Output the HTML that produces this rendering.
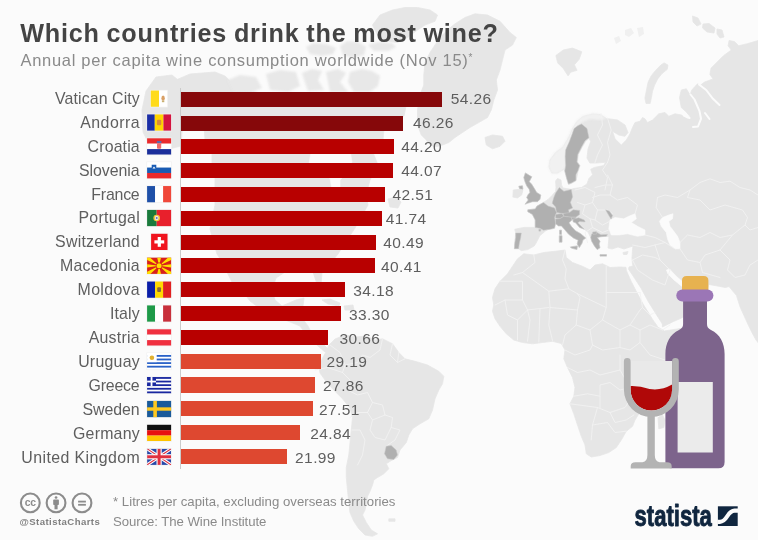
<!DOCTYPE html>
<html><head><meta charset="utf-8"><title>Which countries drink the most wine?</title>
<style>
html,body{margin:0;padding:0}
body{width:758px;height:540px;overflow:hidden;background:#fbfbfb;font-family:"Liberation Sans",sans-serif;position:relative}
#c{position:absolute;left:0;top:0;width:758px;height:540px;overflow:hidden;background:#fbfbfb}
svg{position:absolute;left:0;top:0}
.title{position:absolute;left:20.2px;top:18.8px;font-size:25.2px;font-weight:bold;color:#444;white-space:nowrap;letter-spacing:0.8px;word-spacing:-1px}
.sub{position:absolute;left:20.5px;top:50.7px;font-size:16.5px;color:#8a8a8a;white-space:nowrap;letter-spacing:0.7px}
.axis{position:absolute;left:179.8px;top:87.5px;width:1px;height:381px;background:#cbcbcb}
.bar{position:absolute;left:181px;height:15.1px}
.lbl{position:absolute;right:618.4px;font-size:15.9px;line-height:20px;color:#5e5e5e;white-space:nowrap;text-align:right;letter-spacing:0.1px}
.val{position:absolute;font-size:15.5px;line-height:20px;color:#5e5e5e;white-space:nowrap;letter-spacing:0.4px}
.foot{position:absolute;left:113px;font-size:13.2px;color:#8a8a8a;white-space:nowrap;letter-spacing:0.02px}
.handle{position:absolute;left:19.5px;top:515.5px;font-size:9.6px;font-weight:bold;color:#808080;white-space:nowrap;letter-spacing:0.42px}
</style></head><body><div id="c">
<svg id="map" width="758" height="540" viewBox="0 0 758 540" style="filter:blur(0.5px)">
<g fill="#e6e6e6" stroke="#e6e6e6" stroke-width="0.8" stroke-linejoin="round">
<path d="M514.4 248.7 L514.8 243.0 L515.7 233.0 L514.8 229.3 L524.0 227.4 L535.2 227.4 L535.2 220.0 L532.4 214.4 L527.8 211.7 L527.8 209.8 L535.2 208.9 L537.0 206.1 L543.5 202.4 L548.0 199.5 L552.0 195.5 L555.6 191.5 L556.0 187.6 L555.6 181.0 L557.5 178.5 L561.0 180.0 L561.5 185.0 L563.0 188.0 L566.0 188.5 L571.3 189.3 L574.0 188.5 L581.5 187.5 L587.0 184.0 L588.9 178.5 L592.6 174.8 L590.7 169.3 L594.4 167.4 L603.7 165.6 L605.6 162.3 L596.3 163.0 L589.8 163.0 L587.0 158.0 L588.0 149.0 L590.7 141.5 L589.0 138.3 L585.5 141.5 L582.0 147.5 L578.3 154.4 L577.5 162.0 L580.0 165.6 L578.0 171.5 L576.0 180.8 L571.3 183.5 L568.5 184.5 L566.7 178.5 L564.8 171.0 L563.9 169.3 L557.4 173.0 L551.9 173.0 L549.0 167.0 L550.0 160.0 L555.6 152.6 L563.0 147.0 L568.5 137.8 L573.1 127.6 L577.0 121.5 L583.0 116.5 L592.5 114.0 L600.0 114.5 L606.5 118.5 L617.5 120.0 L625.0 125.0 L628.0 132.5 L625.0 136.3 L618.8 135.0 L612.5 131.3 L615.0 138.8 L621.3 145.0 L626.3 140.0 L630.0 133.8 L632.5 127.5 L635.0 122.5 L640.0 121.3 L642.5 117.5 L645.0 118.8 L647.5 122.5 L652.5 120.0 L658.8 113.8 L665.0 112.5 L668.8 116.3 L675.0 113.8 L681.3 115.0 L687.5 118.8 L690.0 116.3 L685.5 111.3 L681.3 107.5 L679.5 97.5 L681.3 90.0 L686.3 88.8 L690.0 95.0 L691.8 90.0 L697.5 83.8 L700.3 85.3 L704.6 82.1 L713.1 78.9 L709.9 74.6 L711.0 68.2 L717.4 61.8 L723.8 55.4 L731.3 50.1 L728.1 45.8 L729.1 40.5 L734.5 41.6 L738.7 45.8 L747.3 43.7 L760.0 40.0 L760.0 345.0 L756.0 340.0 L751.0 330.7 L745.8 319.6 L740.0 306.7 L736.5 295.6 L729.0 286.5 L725.4 287.5 L715.0 285.5 L708.7 284.4 L707.0 292.0 L700.0 305.0 L682.0 317.8 L673.5 321.5 L662.4 327.0 L662.4 324.0 L657.4 316.2 L648.2 301.4 L641.2 288.4 L634.9 278.7 L628.6 269.2 L629.0 267.0 L633.0 266.0 L632.5 264.0 L632.0 258.0 L632.5 250.0 L633.0 246.0 L630.0 247.0 L624.0 249.0 L618.0 247.0 L612.0 249.0 L608.0 248.0 L609.0 237.0 L606.5 236.3 L600.9 236.7 L597.2 237.6 L600.0 241.3 L599.1 244.1 L600.0 247.8 L597.2 249.6 L594.4 245.9 L591.7 241.3 L590.7 237.6 L588.0 232.0 L584.3 229.3 L579.6 227.4 L575.6 222.8 L571.9 220.0 L568.9 222.8 L571.5 226.5 L575.4 230.7 L580.7 233.7 L585.7 238.1 L583.0 240.0 L582.0 243.3 L579.3 247.6 L577.2 243.9 L578.1 240.2 L573.5 238.0 L568.7 234.3 L564.4 229.3 L561.5 225.9 L558.5 225.9 L555.6 223.7 L552.0 228.5 L548.0 229.5 L545.4 231.1 L539.8 235.7 L537.0 241.3 L534.3 245.9 L527.8 249.6 L521.3 250.6 L518.5 248.7Z"/>
<path d="M513.3 190.0 L519.2 189.3 L522.9 190.0 L521.7 195.0 L517.5 197.9 L512.9 197.1Z"/>
<path d="M485.0 137.5 L492.5 135.0 L502.5 136.3 L505.0 141.3 L500.0 146.3 L492.5 148.8 L486.3 145.0Z"/>
<path d="M664.1 62.9 L667.9 65.0 L667.3 69.3 L662.0 73.6 L657.7 78.9 L654.5 85.3 L652.4 91.7 L651.3 98.1 L650.2 103.4 L646.0 103.4 L644.9 98.1 L646.6 89.6 L648.1 82.1 L651.3 75.7 L655.6 70.4 L660.9 65.0Z"/>
<path d="M623.0 252.5 L628.0 251.5 L627.0 254.5 L623.5 254.5Z"/>
<path d="M570.4 246.9 L577.4 245.9 L576.9 249.6 L571.3 248.1Z"/>
<path d="M559.3 235.7 L562.0 235.7 L562.0 242.2 L559.3 242.2Z"/>
<path d="M559.6 230.2 L561.5 230.2 L561.5 234.4 L559.6 234.4Z"/>
<path d="M600.0 254.6 L606.5 254.6 L606.5 256.1 L600.0 256.1Z"/>
<path d="M525.4 172.9 L530.0 175.8 L531.8 176.8 L529.2 181.7 L531.7 184.2 L534.2 188.3 L536.7 192.5 L540.8 195.0 L540.0 199.2 L537.5 201.7 L532.5 201.7 L527.5 203.3 L525.0 204.2 L528.3 200.0 L526.7 197.5 L528.3 194.2 L530.0 192.5 L529.2 189.2 L526.7 185.8 L525.0 181.7 L523.8 177.5Z"/>
<path d="M518.8 186.2 L522.5 185.8 L522.9 189.2 L519.6 188.8Z"/>
<path d="M523.8 253.8 L533.8 255.0 L543.8 252.5 L555.0 251.3 L565.0 250.0 L566.3 257.5 L572.5 262.5 L582.5 266.3 L590.0 270.0 L595.0 265.0 L602.5 263.8 L610.0 267.5 L620.0 267.0 L626.0 267.3 L626.4 270.8 L631.1 281.3 L636.4 291.6 L643.4 304.6 L652.6 319.4 L658.0 327.2 L664.5 331.0 L690.0 327.0 L683.0 340.0 L672.0 356.0 L660.0 372.0 L650.0 385.0 L646.0 400.0 L640.0 412.0 L635.0 420.0 L632.5 426.3 L626.3 431.3 L621.3 440.0 L616.3 447.5 L608.8 452.5 L600.0 455.5 L591.3 457.0 L586.3 453.8 L585.0 445.0 L581.3 436.3 L577.5 425.0 L573.8 413.8 L570.0 403.8 L573.8 396.3 L575.0 387.5 L572.5 377.5 L567.5 367.5 L563.8 358.8 L565.0 350.0 L561.3 343.5 L552.5 341.3 L542.5 342.5 L532.5 343.8 L522.5 342.5 L513.8 340.0 L506.3 333.8 L500.0 326.3 L495.0 318.8 L492.5 311.3 L493.8 305.0 L492.5 297.5 L495.0 288.8 L500.0 281.3 L507.5 273.8 L512.5 266.3 L517.5 258.8Z"/>
<path d="M658.0 417.5 L662.5 415.0 L665.0 420.0 L663.8 427.5 L658.8 428.8Z"/>
<path d="M465.0 17.5 L475.0 13.8 L487.5 15.0 L500.0 21.3 L510.0 32.5 L516.3 37.5 L512.5 45.0 L505.0 50.0 L502.5 60.0 L500.0 70.0 L496.3 80.0 L497.5 90.0 L493.8 100.0 L491.3 110.0 L487.5 117.5 L478.8 122.5 L470.0 127.5 L462.5 132.5 L455.0 137.5 L448.8 142.5 L442.5 145.0 L435.0 147.0 L430.0 145.0 L426.3 140.0 L421.3 135.0 L417.5 125.0 L417.5 110.0 L420.0 95.0 L423.8 85.0 L423.8 75.0 L425.0 62.5 L430.0 52.5 L435.0 45.0 L440.0 37.5 L447.5 30.0 L455.0 23.8Z"/>
<path d="M372.5 25.0 L380.0 15.0 L392.5 10.0 L405.0 7.5 L417.5 7.5 L430.0 10.0 L437.5 15.0 L435.0 21.3 L425.0 25.0 L417.5 30.0 L407.5 37.5 L397.5 42.5 L387.5 41.3 L377.5 35.0Z"/>
<path d="M555.9 55.5 L563.3 50.0 L572.5 48.1 L581.8 51.8 L579.2 59.2 L574.4 64.8 L577.0 70.3 L570.7 72.2 L568.1 75.9 L563.3 68.5 L557.7 62.9Z"/>
<path d="M142.0 110.0 L146.0 91.0 L156.0 77.0 L172.0 75.0 L183.0 84.0 L183.0 118.0 L181.0 146.0 L165.0 150.0 L150.0 146.0 L143.0 132.0Z"/>
<path d="M176.0 80.0 L190.0 74.0 L215.0 72.0 L225.0 76.0 L240.0 90.0 L262.0 93.0 L300.0 94.0 L340.0 95.0 L372.0 96.0 L400.0 98.0 L406.0 106.0 L404.0 116.0 L392.0 120.0 L384.0 128.0 L383.0 140.0 L372.0 150.0 L378.0 165.0 L370.0 180.0 L366.0 195.0 L368.0 205.0 L355.0 228.0 L347.0 240.0 L338.0 254.0 L328.0 266.0 L322.0 272.0 L321.0 285.0 L318.0 287.0 L315.0 278.0 L313.0 272.0 L300.0 270.0 L285.0 272.0 L276.0 278.0 L272.0 290.0 L275.0 300.0 L282.0 306.0 L296.0 300.0 L304.0 298.0 L303.0 306.0 L298.0 312.0 L302.0 318.0 L308.0 326.0 L312.0 334.0 L318.0 340.0 L324.0 345.0 L331.0 352.0 L325.0 352.0 L318.0 346.0 L309.0 338.0 L300.0 326.0 L280.0 318.0 L262.0 310.0 L250.0 301.0 L232.0 277.0 L217.0 254.0 L210.0 229.0 L215.0 205.0 L215.0 190.0 L215.0 175.0 L212.0 165.0 L212.0 150.0 L205.0 140.0 L204.0 125.0 L183.0 120.0 L176.0 110.0Z"/>
<path d="M226.0 270.0 L230.0 270.0 L242.0 294.0 L239.0 296.0Z"/>
<path d="M388.0 199.0 L396.0 197.0 L401.0 202.0 L398.0 208.0 L390.0 207.0Z"/>
<path d="M322.0 300.0 L330.0 299.0 L340.0 303.0 L339.0 306.0 L328.0 304.0Z"/>
<path d="M344.0 306.0 L353.0 305.0 L354.0 310.0 L345.0 310.0Z"/>
<path d="M326.0 352.0 L329.0 345.0 L335.0 339.0 L345.0 335.0 L356.0 337.0 L366.0 336.0 L375.0 340.0 L382.5 338.8 L392.5 343.8 L398.8 352.5 L405.0 358.8 L415.0 361.3 L427.5 365.0 L438.8 371.3 L443.8 376.3 L442.5 383.8 L438.8 390.0 L435.0 398.8 L432.5 410.0 L428.8 418.8 L420.0 423.8 L412.5 428.8 L408.8 435.0 L406.3 442.5 L400.0 450.0 L397.5 457.5 L390.0 461.3 L386.3 463.8 L388.8 468.8 L383.8 473.8 L377.5 477.5 L373.8 480.0 L372.5 485.0 L370.0 491.3 L367.5 496.3 L366.3 503.8 L365.0 510.0 L362.5 515.0 L366.3 522.5 L371.3 530.0 L377.5 533.8 L372.5 536.3 L365.0 535.0 L358.8 528.8 L353.8 521.3 L350.0 512.5 L348.8 502.5 L347.5 490.0 L346.3 477.5 L346.3 467.5 L348.8 455.0 L350.0 442.5 L351.3 430.0 L352.5 417.5 L350.0 408.0 L342.5 398.8 L332.5 388.8 L325.0 380.0 L320.0 373.0 L319.0 366.0 L322.0 359.0Z"/>
<path d="M388.8 518.8 L395.0 518.8 L395.0 521.3 L388.8 521.3Z"/>
<path d="M692.5 16.0 L698.0 18.0 L701.0 24.0 L697.0 26.0 L693.0 22.0Z"/>
<path d="M703.0 24.0 L709.0 23.5 L715.0 28.0 L714.0 33.0 L707.0 32.0 L702.5 28.0Z"/>
<path d="M717.0 29.0 L722.0 30.0 L724.0 37.0 L720.0 38.0 L717.0 34.0Z"/>
</g>
<g fill="#e8e8e8" style="filter:blur(1.1px)"><path d="M306.0 47.0 L314.0 43.0 L326.0 44.0 L336.0 48.0 L333.0 54.0 L322.0 56.0 L310.0 54.0Z"/><path d="M340.0 46.0 L347.0 41.0 L358.0 42.0 L366.0 47.0 L364.0 55.0 L352.0 58.0 L343.0 55.0Z"/><path d="M368.0 45.0 L378.0 42.0 L392.0 43.0 L396.0 47.0 L388.0 51.0 L374.0 51.0Z"/><path d="M228.0 80.0 L240.0 75.0 L256.0 77.0 L262.0 88.0 L250.0 93.0 L234.0 92.0Z"/><path d="M266.0 74.0 L280.0 70.0 L296.0 72.0 L300.0 86.0 L288.0 92.0 L270.0 90.0Z"/><path d="M302.0 73.0 L312.0 69.0 L322.0 71.0 L318.0 80.0 L324.0 90.0 L308.0 91.0Z"/><path d="M326.0 72.0 L338.0 69.0 L346.0 73.0 L340.0 82.0 L348.0 92.0 L330.0 92.0Z"/><path d="M350.0 72.0 L362.0 69.0 L372.0 71.0 L380.0 76.0 L378.0 86.0 L370.0 92.0 L354.0 92.0 L348.0 82.0Z"/></g>
<g fill="#f1f1f1" style="filter:blur(0.9px)"><path d="M551.5 173.5 L548.5 167.0 L549.5 160.0 L555.0 152.4 L562.5 146.6 L568.0 137.5 L572.6 127.3 L576.5 121.0 L582.5 116.0 L592.5 113.5 L600.0 114.0 L607.0 118.5 L600.0 120.0 L590.0 119.0 L583.0 122.0 L579.0 125.0 L575.5 131.0 L571.0 141.0 L566.8 150.0 L565.3 158.0 L565.3 166.0 L564.0 169.5 L557.4 173.5Z"/></g>
<g fill="#f0f0f0"><path d="M614.0 38.0 L619.0 36.0 L621.0 41.0 L616.0 44.0Z"/><path d="M625.0 30.0 L631.0 28.0 L634.0 33.0 L629.0 37.0 L625.0 35.0Z"/><path d="M637.0 28.0 L643.0 27.0 L644.0 34.0 L639.0 37.0Z"/></g>
<g fill="#fbfbfb" stroke="#fbfbfb" stroke-width="0.6" stroke-linejoin="round">
<path d="M610.0 220.0 L615.0 217.5 L623.8 218.8 L628.8 216.3 L635.0 213.8 L636.3 218.8 L631.3 222.5 L637.5 226.3 L645.0 230.0 L645.0 235.0 L637.5 236.3 L627.5 233.8 L618.8 235.0 L611.3 235.0 L608.8 228.8Z"/>
<path d="M662.5 217.5 L668.8 215.0 L673.0 213.8 L672.5 218.8 L668.8 221.3 L670.0 226.3 L673.8 231.3 L677.5 236.3 L680.0 242.5 L680.0 248.8 L675.0 248.8 L670.0 245.0 L667.5 238.8 L666.3 232.5 L661.3 226.3 L659.5 221.3Z"/>
<path d="M666.5 270.0 L669.5 269.0 L676.0 276.0 L684.0 283.0 L700.0 287.0 L700.0 290.0 L682.0 286.5 L674.0 280.0 L668.0 274.0Z"/>
<path d="M312.0 146.0 L322.0 142.0 L338.0 144.0 L350.0 150.0 L352.0 162.0 L346.0 174.0 L340.0 180.0 L340.0 190.0 L332.0 190.0 L330.0 178.0 L318.0 174.0 L309.0 164.0Z"/>
</g>
<g fill="none" stroke="#fbfbfb" stroke-width="2" stroke-linejoin="round" stroke-linecap="round"><path d="M690.5 94.5 L694.5 99.5 L699.5 111.2 L701.0 118.8 L698.0 126.5 L693.0 127.0"/><path d="M699.0 84.5 L706.2 90.0 L713.0 98.8 L719.5 105.0"/><path d="M705.0 113.0 L709.5 119.0"/><path d="M683.8 115.5 L689.5 118.0"/></g>
<g fill="none" stroke="#f2f2f2" stroke-width="0.9" stroke-linejoin="round" stroke-linecap="round">
<path d="M533.8 255.0 L535.0 262.5 L522.5 272.5 L513.8 275.0"/>
<path d="M565.0 250.0 L562.5 260.0 L566.2 268.8 L565.0 278.8 L568.8 288.8 L577.5 293.8"/>
<path d="M606.2 266.2 L606.2 292.5 L640.0 292.5"/>
<path d="M577.5 293.8 L606.2 307.5 L606.2 292.5"/>
<path d="M500.0 281.2 L522.5 281.2 L522.5 300.0 L505.0 300.0 L495.0 305.0"/>
<path d="M522.5 272.5 L548.8 291.2 L568.8 288.8"/>
<path d="M548.8 291.2 L550.0 307.5 L577.5 310.0 L580.0 297.5 L577.5 293.8"/>
<path d="M522.5 300.0 L527.5 310.0 L548.8 307.5"/>
<path d="M505.0 300.0 L507.5 315.0 L517.5 320.0 L527.5 310.0"/>
<path d="M517.5 320.0 L517.5 340.0"/>
<path d="M527.5 310.0 L530.0 320.0 L527.5 341.2"/>
<path d="M540.0 308.8 L538.8 342.0"/>
<path d="M550.0 307.5 L548.8 325.0 L552.5 340.5"/>
<path d="M577.5 310.0 L576.2 325.0 L565.0 335.0 L562.5 345.0"/>
<path d="M606.2 307.5 L602.5 320.0 L590.0 330.0 L576.2 325.0"/>
<path d="M602.5 320.0 L620.0 330.0 L630.0 325.0 L640.0 330.0"/>
<path d="M640.0 292.5 L642.5 307.5 L650.0 315.0 L655.0 312.5"/>
<path d="M630.0 325.0 L640.0 310.0 L642.5 307.5"/>
<path d="M640.0 330.0 L650.0 325.0 L662.5 330.0 L670.0 325.0"/>
<path d="M590.0 330.0 L592.5 345.0 L602.5 350.0 L620.0 347.5 L620.0 330.0"/>
<path d="M620.0 347.5 L630.0 350.0 L640.0 342.5 L640.0 330.0"/>
<path d="M640.0 342.5 L650.0 355.0 L665.0 360.0"/>
<path d="M565.0 350.0 L575.0 355.0 L590.0 350.0 L592.5 345.0"/>
<path d="M567.5 367.5 L577.5 372.5 L590.0 370.0 L600.0 375.0 L620.0 370.0 L620.0 355.0"/>
<path d="M573.8 396.2 L587.5 393.8 L600.0 396.2 L600.0 385.0 L610.0 382.5 L620.0 390.0 L630.0 387.5"/>
<path d="M570.0 403.8 L597.5 407.5 L610.0 412.5 L625.0 407.5 L630.0 400.0"/>
<path d="M597.5 407.5 L592.5 425.0 L591.2 440.0"/>
<path d="M592.5 425.0 L607.5 422.5 L615.0 432.5 L626.2 431.2"/>
<path d="M610.0 412.5 L615.0 422.5 L626.2 420.0 L633.8 415.0"/>
<path d="M600.0 396.2 L600.0 407.5"/>
<path d="M620.0 370.0 L630.0 387.5 L635.0 402.5"/>
<path d="M657.5 197.5 L665.0 195.0 L677.5 197.5 L690.0 190.0 L700.0 182.5 L710.0 178.8 L720.0 182.5 L730.0 181.2 L740.0 187.5 L750.0 190.0 L758.0 195.0"/>
<path d="M657.5 197.5 L656.2 207.5 L662.5 217.5"/>
<path d="M690.0 190.0 L687.5 197.5 L700.0 200.0 L710.0 210.0 L725.0 205.0 L742.5 210.0 L747.5 217.5 L745.0 225.0 L750.0 230.0 L758.0 227.5"/>
<path d="M680.0 242.5 L687.5 235.0 L700.0 237.5 L710.0 232.5 L720.0 237.5 L732.5 235.0 L745.0 225.0"/>
<path d="M680.0 248.8 L687.5 260.0 L700.0 262.5 L705.0 255.0 L720.0 250.0 L732.5 235.0"/>
<path d="M700.0 262.5 L702.5 272.5 L720.0 277.5"/>
<path d="M720.0 250.0 L730.0 260.0 L727.5 270.0 L735.0 277.5 L745.0 275.0 L750.0 265.0 L758.0 260.0"/>
<path d="M645.0 235.0 L655.0 237.5 L665.0 242.5 L675.0 248.8"/>
<path d="M632.5 245.0 L645.0 247.5 L655.0 245.0 L665.0 242.5"/>
<path d="M655.0 245.0 L660.0 260.0 L670.0 270.0"/>
<path d="M632.5 260.0 L642.5 255.0 L655.0 257.5 L660.0 260.0"/>
<path d="M632.5 260.0 L637.5 270.0 L652.5 280.0 L665.0 285.0 L670.0 270.0"/>
<path d="M607.5 175.0 L612.5 185.0 L610.0 195.0 L617.5 200.0 L627.5 197.5 L637.5 205.0 L635.0 213.8"/>
<path d="M595.0 187.5 L605.0 185.0 L612.5 185.0"/>
<path d="M592.5 197.5 L600.0 195.0 L610.0 195.0"/>
<path d="M575.0 190.0 L585.0 187.5 L595.0 192.5 L592.5 202.5 L597.5 210.0 L607.5 210.0 L612.5 213.8"/>
<path d="M577.5 202.5 L585.0 205.0 L592.5 202.5"/>
<path d="M597.5 210.0 L595.0 220.0 L602.5 225.0 L610.0 221.2"/>
<path d="M585.0 205.0 L582.5 213.8 L590.0 218.8 L595.0 220.0"/>
<path d="M590.0 218.8 L592.5 227.5 L602.5 232.5 L608.8 230.0"/>
<path d="M592.5 227.5 L585.0 232.5 L587.5 242.5"/>
<path d="M601.2 113.8 L602.5 125.0 L597.5 135.0 L602.5 145.0 L597.5 155.0 L595.0 162.5"/>
<path d="M607.5 118.0 L611.2 130.0 L607.5 142.5 L610.0 155.0 L607.5 162.5"/>
<path d="M607.5 162.5 L602.5 170.0 L607.5 177.5 L605.0 190.0"/>
<path d="M382.5 338.8 L380.0 350.0 L370.0 357.5 L362.5 355.0 L357.5 362.5 L345.0 365.0 L342.5 372.5"/>
<path d="M342.5 372.5 L350.0 380.0 L347.5 390.0 L357.5 395.0 L367.5 392.5 L372.5 402.5 L382.5 405.0 L385.0 415.0 L392.5 417.5 L391.2 427.5 L400.0 430.0 L395.0 440.0 L386.2 446.2"/>
<path d="M372.5 402.5 L367.5 412.5 L372.5 420.0 L385.0 415.0"/>
<path d="M372.5 420.0 L370.0 430.0 L375.0 437.5 L385.0 440.0 L391.2 427.5"/>
<path d="M350.0 417.5 L357.5 412.5 L367.5 412.5"/>
<path d="M352.5 430.0 L360.0 430.0 L365.0 440.0 L362.5 455.0 L357.5 465.0"/>
<path d="M330.0 345.0 L340.0 352.5 L345.0 365.0"/>
<path d="M315.0 370.0 L327.5 367.5 L342.5 372.5"/>
<path d="M398.8 352.5 L397.5 362.5 L405.0 358.8"/>
<path d="M392.5 343.8 L390.0 355.0 L397.5 362.5"/>
</g>
<g fill="#b0b0b0" stroke="#c9c9c9" stroke-width="0.55" stroke-linejoin="round">
<path d="M581.5 123.9 L587.0 128.5 L588.9 137.8 L585.2 140.6 L581.5 147.0 L577.8 154.4 L576.9 161.9 L579.6 165.6 L577.8 171.1 L575.9 174.8 L575.9 180.4 L571.3 183.1 L568.5 184.1 L566.7 178.5 L564.8 171.1 L565.7 165.6 L565.2 156.3 L565.7 149.8 L569.4 141.5 L572.2 134.1 L574.1 128.5 L577.8 125.7Z"/>
<path d="M525.4 172.9 L530.0 175.8 L531.8 176.8 L529.2 181.7 L531.7 184.2 L534.2 188.3 L536.7 192.5 L540.8 195.0 L540.0 199.2 L537.5 201.7 L532.5 201.7 L527.5 203.3 L525.0 204.2 L528.3 200.0 L526.7 197.5 L528.3 194.2 L530.0 192.5 L529.2 189.2 L526.7 185.8 L525.0 181.7 L523.8 177.5Z"/>
<path d="M518.8 186.2 L522.5 185.8 L522.9 189.2 L519.6 188.8Z"/>
<path d="M559.3 187.6 L563.9 191.3 L571.3 189.4 L572.6 196.9 L570.4 202.4 L572.6 208.0 L568.5 209.8 L569.4 213.5 L563.0 213.5 L556.5 212.6 L555.6 207.0 L552.2 203.3 L553.7 197.8 L555.6 193.1Z"/>
<path d="M543.5 202.4 L548.1 206.1 L554.6 208.0 L556.5 212.6 L554.6 217.2 L555.6 223.7 L554.6 228.3 L550.0 229.3 L543.5 230.2 L539.8 228.3 L535.2 227.4 L535.2 220.0 L532.4 214.4 L527.8 211.7 L527.8 209.8 L535.2 208.9 L537.0 206.1Z"/>
<path d="M555.6 214.4 L562.0 213.5 L563.9 216.3 L560.2 218.5 L555.6 218.1Z"/>
<path d="M563.0 213.5 L569.4 212.6 L573.1 209.8 L579.6 210.4 L579.6 214.4 L575.9 217.2 L570.4 217.2 L563.9 216.3Z"/>
<path d="M571.3 217.2 L575.9 217.2 L575.6 219.6 L571.9 219.6Z"/>
<path d="M573.1 219.1 L578.7 217.8 L584.3 220.0 L585.2 221.9 L579.6 221.5 L577.8 222.8 L581.5 226.5 L584.3 229.3 L579.6 227.4 L575.6 222.8 L573.1 221.9Z"/>
<path d="M555.6 219.1 L560.2 218.5 L563.9 216.3 L571.3 217.2 L571.9 220.0 L568.9 222.8 L571.5 226.5 L575.4 230.7 L580.7 233.7 L585.7 238.1 L583.0 240.0 L582.0 243.3 L579.3 247.6 L577.2 243.9 L578.1 240.2 L573.5 238.0 L568.7 234.3 L564.4 229.3 L561.5 225.9 L558.5 225.9 L555.6 223.7Z"/>
<path d="M570.4 246.9 L577.4 245.9 L576.9 249.6 L571.3 248.1Z"/>
<path d="M559.3 235.7 L562.0 235.7 L562.0 242.2 L559.3 242.2Z"/>
<path d="M559.6 230.2 L561.5 230.2 L561.5 234.4 L559.6 234.4Z"/>
<path d="M515.7 233.0 L521.3 233.0 L520.7 237.6 L519.4 243.1 L518.5 248.7 L514.4 248.7 L514.8 243.1 L515.7 237.6Z"/>
<path d="M591.7 233.9 L596.3 232.0 L600.9 234.8 L607.4 234.4 L606.5 236.3 L600.9 236.7 L597.2 237.6 L600.0 241.3 L599.1 244.1 L600.0 247.8 L597.2 249.6 L594.4 245.9 L591.7 241.3 L590.7 237.6Z"/>
<path d="M600.0 254.6 L606.5 254.6 L606.5 256.1 L600.0 256.1Z"/>
<path d="M592.6 232.0 L596.3 231.7 L596.7 233.9 L593.0 234.4Z"/>
<path d="M605.6 209.8 L609.3 211.1 L612.6 215.4 L611.1 219.1 L609.3 216.3 L607.4 213.0Z"/>
<path d="M538.9 229.3 L540.7 229.3 L540.7 231.1 L538.9 231.1Z"/>
<path d="M386.2 446.2 L391.2 445.5 L396.2 450.0 L397.5 455.0 L393.8 459.5 L387.5 458.8 L384.5 453.8Z"/>
</g></svg>
<div id="t" style="position:absolute;left:0;top:0;width:758px;height:540px;filter:blur(0.38px)">
<div class="title">Which countries drink the most wine?</div>
<div class="sub">Annual per capita wine consumption worldwide (Nov 15)<span style="font-size:10px;position:relative;top:-5px">*</span></div>
<div class="axis"></div>
<div class="bar" style="top:91.75px;width:260.9px;background:#86080a"></div>
<div class="lbl" style="top:88.85px;letter-spacing:0.09px;right:618.21px">Vatican City</div>
<div class="val" style="top:89.30px;left:450.7px">54.26</div>
<div class="bar" style="top:115.56px;width:222.4px;background:#86080a"></div>
<div class="lbl" style="top:112.77px;letter-spacing:0.50px;right:617.80px">Andorra</div>
<div class="val" style="top:113.22px;left:413.1px">46.26</div>
<div class="bar" style="top:139.36px;width:212.5px;background:#b80000"></div>
<div class="lbl" style="top:136.69px;letter-spacing:0.15px;right:618.15px">Croatia</div>
<div class="val" style="top:137.14px;left:401.3px">44.20</div>
<div class="bar" style="top:163.16px;width:211.9px;background:#b80000"></div>
<div class="lbl" style="top:160.61px;letter-spacing:-0.03px;right:618.33px">Slovenia</div>
<div class="val" style="top:161.06px;left:401.3px">44.07</div>
<div class="bar" style="top:186.97px;width:204.4px;background:#b80000"></div>
<div class="lbl" style="top:184.53px;letter-spacing:-0.22px;right:618.52px">France</div>
<div class="val" style="top:184.98px;left:392.5px">42.51</div>
<div class="bar" style="top:210.78px;width:200.7px;background:#b80000"></div>
<div class="lbl" style="top:208.45px;letter-spacing:0.29px;right:618.01px">Portugal</div>
<div class="val" style="top:208.90px;left:385.7px">41.74</div>
<div class="bar" style="top:234.58px;width:194.7px;background:#b80000"></div>
<div class="lbl" style="top:232.37px;letter-spacing:0.25px;right:618.05px">Switzerland</div>
<div class="val" style="top:232.82px;left:383.3px">40.49</div>
<div class="bar" style="top:258.38px;width:194.3px;background:#b80000"></div>
<div class="lbl" style="top:256.29px;letter-spacing:0.25px;right:618.05px">Macedonia</div>
<div class="val" style="top:256.74px;left:380.9px">40.41</div>
<div class="bar" style="top:282.19px;width:164.3px;background:#b80000"></div>
<div class="lbl" style="top:280.21px;letter-spacing:0.35px;right:617.95px">Moldova</div>
<div class="val" style="top:280.66px;left:353.3px">34.18</div>
<div class="bar" style="top:306.00px;width:160.1px;background:#b80000"></div>
<div class="lbl" style="top:304.13px;letter-spacing:0.15px;right:618.15px">Italy</div>
<div class="val" style="top:304.58px;left:349.0px">33.30</div>
<div class="bar" style="top:329.80px;width:147.4px;background:#b80000"></div>
<div class="lbl" style="top:328.05px;letter-spacing:0.27px;right:618.03px">Austria</div>
<div class="val" style="top:328.50px;left:339.4px">30.66</div>
<div class="bar" style="top:353.61px;width:140.3px;background:#de4830"></div>
<div class="lbl" style="top:351.97px;letter-spacing:0.25px;right:618.05px">Uruguay</div>
<div class="val" style="top:352.42px;left:326.4px">29.19</div>
<div class="bar" style="top:377.41px;width:134.0px;background:#de4830"></div>
<div class="lbl" style="top:375.89px;letter-spacing:-0.20px;right:618.50px">Greece</div>
<div class="val" style="top:376.34px;left:323.1px">27.86</div>
<div class="bar" style="top:401.21px;width:132.3px;background:#de4830"></div>
<div class="lbl" style="top:399.81px;letter-spacing:-0.02px;right:618.32px">Sweden</div>
<div class="val" style="top:400.26px;left:318.9px">27.51</div>
<div class="bar" style="top:425.02px;width:119.4px;background:#de4830"></div>
<div class="lbl" style="top:423.73px;letter-spacing:0.23px;right:618.07px">Germany</div>
<div class="val" style="top:424.18px;left:310.3px">24.84</div>
<div class="bar" style="top:448.82px;width:105.7px;background:#de4830"></div>
<div class="lbl" style="top:447.65px;letter-spacing:0.41px;right:617.89px">United Kingdom</div>
<div class="val" style="top:448.10px;left:295.1px">21.99</div>
</div>
<svg id="flags" width="758" height="540" viewBox="0 0 758 540" style="filter:blur(0.35px)">
<g transform="translate(150.80,90.55)"><rect x="-0.7" y="-0.7" width="17.80" height="17.60" fill="#f1f1f1"/><rect x="0.00" y="0.00" width="8.20" height="16.20" fill="#ffdb1a"/><rect x="8.20" y="0.00" width="8.20" height="16.20" fill="#ffffff"/><ellipse cx="12.30" cy="7.61" rx="1.7" ry="2.6" fill="#d9a066"/><rect x="11.10" y="10.04" width="2.4" height="1.6" fill="#c8b070"/></g>
<g transform="translate(147.10,114.42)"><rect x="-0.7" y="-0.7" width="25.40" height="17.60" fill="#f1f1f1"/><rect x="0.00" y="0.00" width="7.68" height="16.20" fill="#1b2ea6"/><rect x="7.68" y="0.00" width="8.64" height="16.20" fill="#ffd400"/><rect x="16.32" y="0.00" width="7.68" height="16.20" fill="#d3143f"/><rect x="9.80" y="5.30" width="4.4" height="5.6" rx="1.2" fill="#d98a3a"/></g>
<g transform="translate(147.10,138.30)"><rect x="-0.7" y="-0.7" width="25.40" height="17.60" fill="#f1f1f1"/><rect x="0.00" y="0.00" width="24.00" height="5.40" fill="#ea2a2c"/><rect x="0.00" y="5.40" width="24.00" height="5.40" fill="#ffffff"/><rect x="0.00" y="10.80" width="24.00" height="5.40" fill="#1b2f9b"/><rect x="9.90" y="4.86" width="4.2" height="5.6" rx="1" fill="#ee6a6a"/><rect x="9.70" y="2.75" width="4.6" height="2.0" fill="#5a6ab0"/></g>
<g transform="translate(147.10,162.18)"><rect x="-0.7" y="-0.7" width="25.40" height="17.60" fill="#f1f1f1"/><rect x="0.00" y="0.00" width="24.00" height="5.40" fill="#ffffff"/><rect x="0.00" y="5.40" width="24.00" height="5.40" fill="#1a5cb4"/><rect x="0.00" y="10.80" width="24.00" height="5.40" fill="#ea2a2c"/><path d="M4.6 2.6 h4.6 v3.6 q0 2.2 -2.3 2.9 q-2.3 -0.7 -2.3 -2.9z" fill="#1a5cb4"/><path d="M5.4 6.4 l1.5 -2 l1.5 2 z" fill="#fff"/></g>
<g transform="translate(147.10,186.05)"><rect x="-0.7" y="-0.7" width="25.40" height="17.60" fill="#f1f1f1"/><rect x="0.00" y="0.00" width="8.00" height="16.20" fill="#1f50a8"/><rect x="8.00" y="0.00" width="8.00" height="16.20" fill="#ffffff"/><rect x="16.00" y="0.00" width="8.00" height="16.20" fill="#f0483a"/></g>
<g transform="translate(147.10,209.93)"><rect x="-0.7" y="-0.7" width="25.40" height="17.60" fill="#f1f1f1"/><rect x="0.00" y="0.00" width="9.60" height="16.20" fill="#1a7a3c"/><rect x="9.60" y="0.00" width="14.40" height="16.20" fill="#e8202c"/><circle cx="9.60" cy="8.10" r="3.3" fill="#f2c53a"/><rect x="7.90" y="6.00" width="3.4" height="4.2" rx="1.3" fill="#e8e8f0"/><rect x="8.80" y="7.10" width="1.6" height="2.0" fill="#6a7ab8"/></g>
<g transform="translate(151.10,233.80)"><rect x="-0.7" y="-0.7" width="17.80" height="17.60" fill="#f1f1f1"/><rect x="0.00" y="0.00" width="16.40" height="16.20" fill="#f0141e"/><rect x="6.60" y="3.20" width="3.20" height="9.80" fill="#ffffff"/><rect x="3.30" y="6.50" width="9.80" height="3.20" fill="#ffffff"/></g>
<g transform="translate(147.10,257.68)"><rect x="-0.7" y="-0.7" width="25.40" height="17.60" fill="#f1f1f1"/><rect x="0.00" y="0.00" width="24.00" height="16.20" fill="#d8201c"/><path d="M0 0 L3.2 0 L12.0 8.1 L0 2.2z M24.0 0 L20.8 0 L12.0 8.1 L24.0 2.2z M0 16.2 L3.2 16.2 L12.0 8.1 L0 14.0z M24.0 16.2 L20.8 16.2 L12.0 8.1 L24.0 14.0z M10.1 0 L13.9 0 L12.0 8.1z M10.1 16.2 L13.9 16.2 L12.0 8.1z M0 6.5 L0 9.7 L12.0 8.1z M24.0 6.5 L24.0 9.7 L12.0 8.1z" fill="#ffe000"/><circle cx="12.0" cy="8.1" r="3.3" fill="#d8201c"/><circle cx="12.0" cy="8.1" r="2.5" fill="#ffe000"/></g>
<g transform="translate(147.10,281.55)"><rect x="-0.7" y="-0.7" width="25.40" height="17.60" fill="#f1f1f1"/><rect x="0.00" y="0.00" width="8.00" height="16.20" fill="#0a1ea8"/><rect x="8.00" y="0.00" width="8.00" height="16.20" fill="#ffd800"/><rect x="16.00" y="0.00" width="8.00" height="16.20" fill="#e02020"/><rect x="10.10" y="5.70" width="3.8" height="4.8" rx="1" fill="#8a6a3a"/></g>
<g transform="translate(147.10,305.43)"><rect x="-0.7" y="-0.7" width="25.40" height="17.60" fill="#f1f1f1"/><rect x="0.00" y="0.00" width="8.00" height="16.20" fill="#1e9a48"/><rect x="8.00" y="0.00" width="8.00" height="16.20" fill="#ffffff"/><rect x="16.00" y="0.00" width="8.00" height="16.20" fill="#c8303c"/></g>
<g transform="translate(147.10,329.30)"><rect x="-0.7" y="-0.7" width="25.40" height="17.60" fill="#f1f1f1"/><rect x="0.00" y="0.00" width="24.00" height="5.40" fill="#f03040"/><rect x="0.00" y="5.40" width="24.00" height="5.40" fill="#ffffff"/><rect x="0.00" y="10.80" width="24.00" height="5.40" fill="#f03040"/></g>
<g transform="translate(147.10,353.18)"><rect x="-0.7" y="-0.7" width="25.40" height="17.60" fill="#f1f1f1"/><rect x="0.00" y="0.00" width="24.00" height="16.20" fill="#ffffff"/><rect x="0.00" y="1.80" width="24.00" height="1.80" fill="#2a62c8"/><rect x="0.00" y="5.40" width="24.00" height="1.80" fill="#2a62c8"/><rect x="0.00" y="9.00" width="24.00" height="1.80" fill="#2a62c8"/><rect x="0.00" y="12.60" width="24.00" height="1.80" fill="#2a62c8"/><rect x="0.00" y="0.00" width="9.60" height="9.00" fill="#ffffff"/><circle cx="4.80" cy="4.50" r="2.3" fill="#e0b030"/></g>
<g transform="translate(147.10,377.05)"><rect x="-0.7" y="-0.7" width="25.40" height="17.60" fill="#f1f1f1"/><rect x="0.00" y="0.00" width="24.00" height="16.20" fill="#ffffff"/><rect x="0.00" y="0.00" width="24.00" height="1.80" fill="#1a28a0"/><rect x="0.00" y="3.60" width="24.00" height="1.80" fill="#1a28a0"/><rect x="0.00" y="7.20" width="24.00" height="1.80" fill="#1a28a0"/><rect x="0.00" y="10.80" width="24.00" height="1.80" fill="#1a28a0"/><rect x="0.00" y="14.40" width="24.00" height="1.80" fill="#1a28a0"/><rect x="0.00" y="0.00" width="8.88" height="9.00" fill="#1a28a0"/><rect x="3.54" y="0.00" width="1.80" height="9.00" fill="#ffffff"/><rect x="0.00" y="3.60" width="8.88" height="1.80" fill="#ffffff"/></g>
<g transform="translate(147.10,400.93)"><rect x="-0.7" y="-0.7" width="25.40" height="17.60" fill="#f1f1f1"/><rect x="0.00" y="0.00" width="24.00" height="16.20" fill="#1a5a9a"/><rect x="6.20" y="0.00" width="3.60" height="16.20" fill="#ffc820"/><rect x="0.00" y="6.40" width="24.00" height="3.40" fill="#ffc820"/></g>
<g transform="translate(147.10,424.80)"><rect x="-0.7" y="-0.7" width="25.40" height="17.60" fill="#f1f1f1"/><rect x="0.00" y="0.00" width="24.00" height="5.40" fill="#111111"/><rect x="0.00" y="5.40" width="24.00" height="5.40" fill="#e81010"/><rect x="0.00" y="10.80" width="24.00" height="5.40" fill="#ffc400"/></g>
<clipPath id="ukc"><rect x="0" y="0" width="24.0" height="16.2"/></clipPath>
<g transform="translate(147.10,448.68)"><rect x="-0.7" y="-0.7" width="25.40" height="17.60" fill="#f1f1f1"/><g clip-path="url(#ukc)"><rect x="0.00" y="0.00" width="24.00" height="16.20" fill="#2848a8"/><path d="M0 0 L24.0 16.2 M24.0 0 L0 16.2" stroke="#ffffff" stroke-width="3.2"/><path d="M0 0 L24.0 16.2 M24.0 0 L0 16.2" stroke="#e03040" stroke-width="1.1"/><rect x="9.40" y="0.00" width="5.20" height="16.20" fill="#ffffff"/><rect x="0.00" y="5.50" width="24.00" height="5.20" fill="#ffffff"/><rect x="10.50" y="0.00" width="3.00" height="16.20" fill="#e03040"/><rect x="0.00" y="6.60" width="24.00" height="3.00" fill="#e03040"/></g></g>
</svg>
<svg id="art" width="758" height="540" viewBox="0 0 758 540" style="filter:blur(0.35px)">
<path d="M683.1 300 L683.1 324 C683.1 327 682 328.5 679 330 C670 334 665.4 343 665.4 354 L665.4 462 Q665.4 468.3 671.6 468.3 L718.4 468.3 Q724.6 468.3 724.6 462 L724.6 354 C724.6 343 720 334 711 330 C708 328.5 707 327 707 324 L707 300 Z" fill="#7d648c"/>
<path d="M682 291 L682 280.6 Q682 276 686.6 276 L703.8 276 Q708.4 276 708.4 280.6 L708.4 291 Z" fill="#e7b250"/>
<rect x="676.3" y="289.6" width="37.1" height="12" rx="6" fill="#9b76b6"/>
<rect x="677.6" y="382" width="35.2" height="70.5" fill="#ebebeb"/>
<path d="M630.6 361 L630.6 389.6 A20.75 21 0 0 0 672.1 389.6 L672.1 361 Z" fill="#e9e9e9"/>
<path d="M630.6 385.9 Q640 385.6 649.5 389 Q661 391 672.1 384.6 L672.1 389.6 A20.75 21 0 0 1 630.6 389.6 Z" fill="#b00808"/>
<path d="M623.9 361.4 Q623.9 358.1 627.25 358.1 Q630.6 358.1 630.6 361.4 L630.6 389.6 A20.75 21 0 0 0 672.1 389.6 L672.1 361.4 Q672.1 358.1 675.45 358.1 Q678.8 358.1 678.8 361.4 L678.8 389.6 A27.45 27.5 0 0 1 623.9 389.6 Z" fill="#b3b3b3"/>
<path d="M630.7 468.6 L630.7 466.3 Q630.7 462.3 635.5 462.3 L642.5 462.3 Q647.4 461.5 647.4 455 L647.4 414 L654.8 414 L654.8 455 Q654.8 461.5 659.7 462.3 L667 462.3 Q671.7 462.3 671.7 466.3 L671.7 468.6 Z" fill="#b3b3b3"/>
<g transform="translate(634.6,526) scale(0.764,1)"><text x="0" y="0" font-family="Liberation Sans, sans-serif" font-weight="bold" font-size="28.9" fill="#10263f" stroke="#10263f" stroke-width="0.9" stroke-linejoin="round">statista</text></g>
<rect x="717.9" y="506.3" width="19.8" height="19.7" fill="#10263f"/>
<path d="M717.4 521.8 L720 521.8 C727.5 521.8 727 510.7 734.5 510.7 L738.2 510.7" fill="none" stroke="#fbfbfb" stroke-width="4.2"/>
<circle cx="30.3" cy="502.9" r="9.4" fill="none" stroke="#8c8c8c" stroke-width="2.1"/>
<circle cx="56.05" cy="502.9" r="9.4" fill="none" stroke="#8c8c8c" stroke-width="2.1"/>
<circle cx="82.0" cy="502.9" r="9.4" fill="none" stroke="#8c8c8c" stroke-width="2.1"/>
<text x="30.3" y="506.3" text-anchor="middle" font-family="Liberation Sans, sans-serif" font-weight="bold" font-size="10.4" letter-spacing="-0.3" fill="#8c8c8c">cc</text>
<circle cx="56.05" cy="497.5" r="1.35" fill="#8c8c8c"/><rect x="53.2" y="499.6" width="5.7" height="5.5" rx="0.8" fill="#8c8c8c"/><rect x="54.5" y="504" width="3.1" height="5.3" fill="#8c8c8c"/>
<rect x="78.1" y="500.7" width="7.8" height="1.8" fill="#8c8c8c"/><rect x="78.1" y="503.9" width="7.8" height="1.8" fill="#8c8c8c"/>
</svg>
<div style="position:absolute;left:0;top:0;width:758px;height:540px;filter:blur(0.38px)">
<div class="foot" style="top:493.8px">* Litres per capita, excluding overseas territories</div>
<div class="foot" style="top:513.8px;letter-spacing:-0.07px">Source: The Wine Institute</div>
<div class="handle">@StatistaCharts</div></div>
</div></body></html>
